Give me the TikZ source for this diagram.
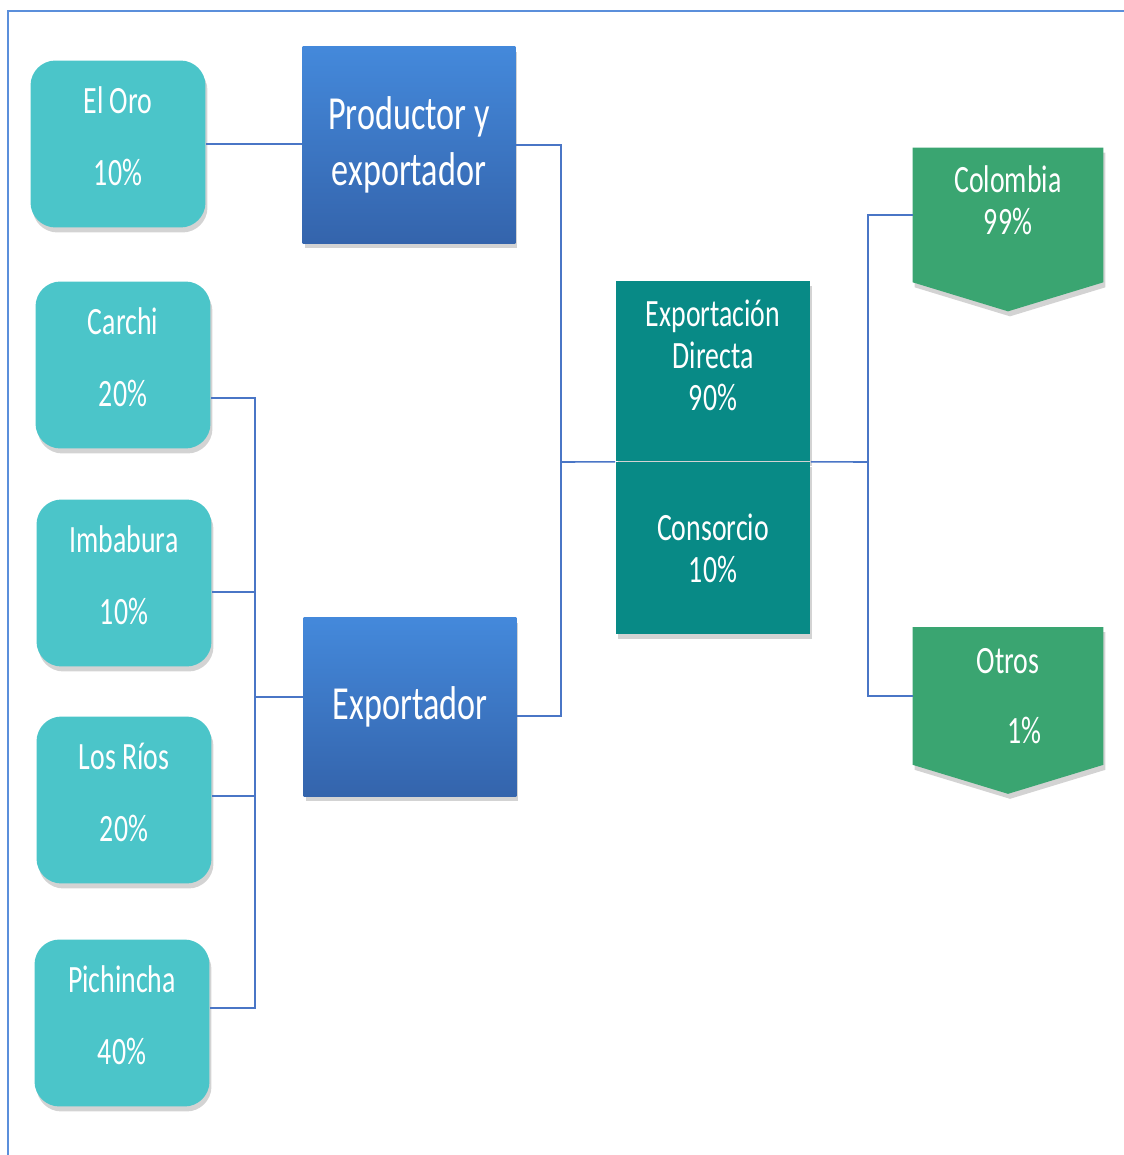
\documentclass[tikz,border=0pt]{standalone}
\usepackage{fontspec}
\setmainfont{Carlito}[FakeStretch=0.72]
\usetikzlibrary{shadows,backgrounds}

\definecolor{provcol}{HTML}{4BC5C9}
\definecolor{prodtop}{HTML}{4489DB}
\definecolor{prodbot}{HTML}{3464AC}
\definecolor{tealcol}{HTML}{088A86}
\definecolor{paiscol}{HTML}{3AA571}
\definecolor{linkcol}{HTML}{4A76C6}
\definecolor{framecol}{HTML}{5B8FDB}

\begin{document}
\begin{tikzpicture}[x=0.02cm,y=-0.02cm,
  link/.style={draw=linkcol,line width=0.9pt},
  sombra/.style={drop shadow={shadow xshift=0.04cm,shadow yshift=-0.1cm,opacity=0.35}},
  prov/.style={sombra,rounded corners=0.5cm,fill=provcol,minimum width=3.5cm,minimum height=3.34cm,
    text=white,align=center,text depth=9pt,font=\fontsize{22}{25}\selectfont},
  actor/.style={sombra,top color=prodtop,bottom color=prodbot,minimum width=4.26cm,
    text=white,align=center,font=\fontsize{27}{32}\selectfont},
  via/.style={sombra,fill=tealcol,minimum width=3.9cm,text=white,align=center,font=\fontsize{22}{24}\selectfont},
  pais/.style={minimum width=3.8cm,minimum height=2.68cm,text=white,align=center,font=\fontsize{22}{24}\selectfont}]
\useasboundingbox (0,0) rectangle (1124,1155);

% marco
\draw[framecol,line width=1.2pt] (8,1155) -- (8,11) -- (1124,11);

% provincias
\node[prov] (oro) at (118,144) {El Oro\\[16pt]10\%};
\node[prov] (carchi) at (123,365) {Carchi\\[16pt]20\%};
\node[prov] (imbabura) at (124,583) {Imbabura\\[16pt]10\%};
\node[prov] (rios) at (124,800) {Los Ríos\\[16pt]20\%};
\node[prov] (pichincha) at (122,1023) {Pichincha\\[16pt]40\%};

% productores / exportadores
\node[actor,minimum height=3.94cm] (prod) at (409,145) {Productor y\\exportador};
\node[actor,minimum height=3.58cm] (exp) at (410,707) {Exportador};

% tipo de exportacion
\node[via,minimum height=3.62cm,text depth=18pt] (directa) at (713,371) {Exportación\\Directa\\90\%};
\node[via,minimum height=3.46cm] (consorcio) at (713,548) {Consorcio\\10\%};

% destinos
\node[pais,text depth=17pt] (col) at (1008,215) {Colombia\\99\%};
\node[pais,minimum height=2.74cm] (otros) at (1008,696) {Otros\\[16pt]\hspace*{19pt}1\%};
\begin{scope}[on background layer]
\foreach \p in {col,otros}
  \fill[paiscol,sombra] (\p.north west) -- (\p.north east) -- (\p.south east)
    -- ([yshift=-0.58cm]\p.south) -- (\p.south west) -- cycle;
\end{scope}

% conexiones
\coordinate (bl) at (255,697);
\coordinate (bm) at (561,462);
\coordinate (br) at (868,462);
\draw[link] (oro.east) -- (oro.east -| prod.west);
\draw[link] ([yshift=-0.66cm]carchi.east) -| (bl);
\draw[link] ([yshift=-0.18cm]imbabura.east) -| (bl);
\draw[link] ([yshift=0.08cm]rios.east) -| (bl);
\draw[link] ([yshift=0.3cm]pichincha.east) -| (bl);
\draw[link] (bl) -- (bl -| exp.west);
\draw[link] (prod.east) -| (bm);
\draw[link] ([yshift=-0.18cm]exp.east) -| (bm);
\draw[link] (bm) -- (directa.south west);
\draw[link] (directa.south east) -- (br);
\draw[link] (br) |- (col.west);
\draw[link] (br) |- (otros.west);
\end{tikzpicture}
\end{document}
